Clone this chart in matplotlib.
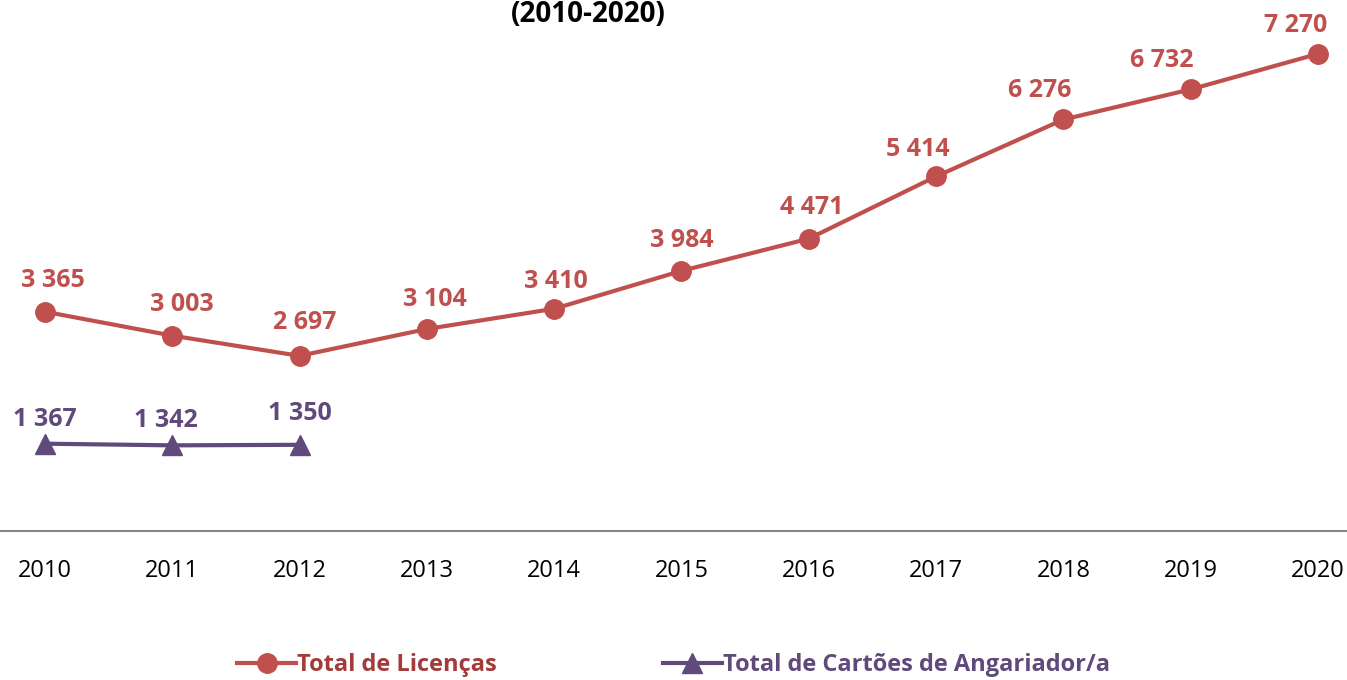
import matplotlib
matplotlib.use("Agg")
from matplotlib import pyplot as plt
import numpy as np

years = ["2010", "2011", "2012", "2013", "2014", "2015", "2016", "2017", "2018", "2019", "2020"]
licencas = [3365, 3003, 2697, 3104, 3410, 3984, 4471, 5414, 6276, 6732, 7270]
cartoes = [1367, 1342, 1350]

lic_labels = ["3 365", "3 003", "2 697", "3 104", "3 410", "3 984", "4 471", "5 414", "6 276", "6 732", "7 270"]
cart_labels = ["1 367", "1 342", "1 350"]

# label nudges in pixels (dx, dy), like the excel layout
lic_off = [(8, 31), (10, 31), (5, 33), (8, 29), (2, 27), (0, 30), (3, 31), (-18, 27), (-24, 29), (-29, 29), (-22, 28)]
cart_off = [(0, 24), (-6, 25), (0, 31)]

red = "#C0504D"
red_txt = "#A33B3A"
purple = "#604A7B"

plt.rcParams['font.family'] = ['Open Sans', 'DejaVu Sans']

fig = plt.figure(figsize=(13.47, 6.80), dpi=100)
ax = fig.add_axes([0, 1 - 531 / 680, 1, 528 / 680])

x = np.arange(len(years))
ax.plot(x, licencas, '-o', color=red, lw=3, ms=14, label="Total de Licenças")
ax.plot(x[:len(cartoes)], cartoes, '-^', color=purple, lw=3, ms=14, label="Total de Cartões de Angariador/a")

for i, v in enumerate(licencas):
    ax.annotate(lic_labels[i], (x[i], v), xytext=(lic_off[i][0] * 0.72, lic_off[i][1] * 0.72),
                textcoords="offset points", ha="center", va="center",
                fontsize=18, fontweight="bold", color=red)
for i, v in enumerate(cartoes):
    ax.annotate(cart_labels[i], (x[i], v), xytext=(cart_off[i][0] * 0.72, cart_off[i][1] * 0.72),
                textcoords="offset points", ha="center", va="center",
                fontsize=18, fontweight="bold", color=purple)

ax.set_xlim(-45 / 127.3, 10 + 29 / 127.3)
ax.set_ylim(45, 8040)
ax.set_xticks(x)
ax.set_xticklabels(years, fontsize=17)
ax.tick_params(axis='x', length=0, pad=20)
ax.set_yticks([])
for s in ["top", "left", "right"]:
    ax.spines[s].set_visible(False)
ax.spines["bottom"].set_color("#868686")
ax.spines["bottom"].set_linewidth(1.5)
ax.patch.set_alpha(0)

fig.text(588 / 1347, 1 - 22 / 680, "(2010-2020)", ha="center", va="baseline",
         fontsize=20, fontweight="bold", color="black")

leg = fig.legend(loc="center", bbox_to_anchor=(0.5, 1 - 665 / 680), ncol=2, frameon=False,
                 handlelength=2.5, handletextpad=0.05, columnspacing=7.0,
                 prop={'weight': 'bold', 'size': 17})
leg.get_texts()[0].set_color(red_txt)
leg.get_texts()[1].set_color(purple)

fig.savefig("out.png", dpi=100)
